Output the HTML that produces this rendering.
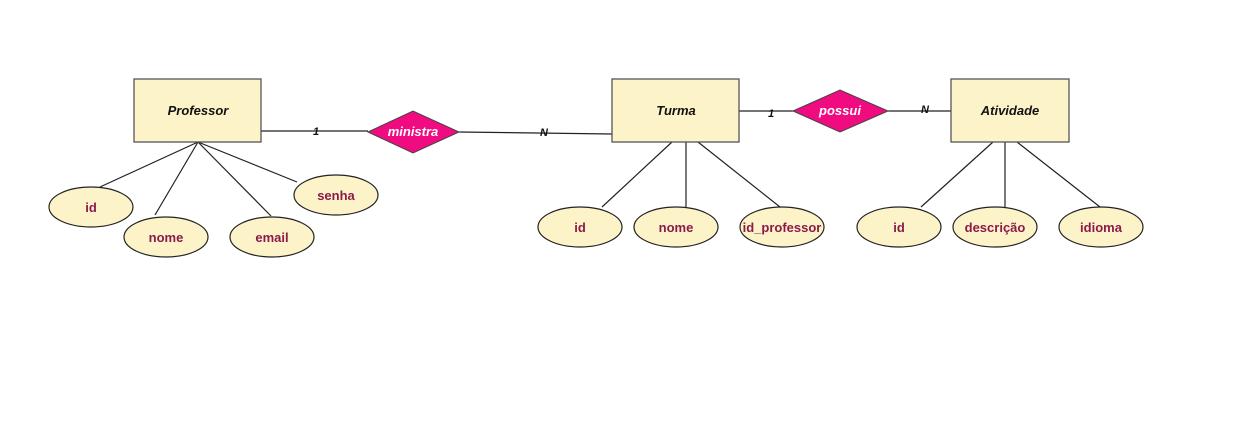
<!DOCTYPE html>
<html><head><style>
html,body{margin:0;padding:0;background:#fff;width:1240px;height:433px;overflow:hidden}
text{font-family:"Liberation Sans",Arial,sans-serif;font-weight:bold;font-size:13px}
.a{fill:#8b1a4a;text-anchor:middle}
.e{fill:#111;font-style:italic;text-anchor:middle}
.r{fill:#fff;font-style:italic;text-anchor:middle}
.c{fill:#111;font-style:italic;font-size:11px;text-anchor:middle}
</style></head><body>
<svg width="1240" height="433" xmlns="http://www.w3.org/2000/svg">
<g stroke="#222" stroke-width="1.2" fill="none">
<line x1="261" y1="131" x2="368" y2="131"/>
<line x1="459" y1="132" x2="612" y2="134"/>
<line x1="739" y1="111" x2="793" y2="111"/>
<line x1="888" y1="111" x2="951" y2="111"/>
<line x1="198" y1="142" x2="100" y2="187"/>
<line x1="198" y1="142" x2="155" y2="215"/>
<line x1="198" y1="142" x2="271" y2="216"/>
<line x1="198" y1="142" x2="297" y2="182"/>
<line x1="672" y1="142" x2="602" y2="207"/>
<line x1="686" y1="142" x2="686" y2="207"/>
<line x1="698" y1="142" x2="780" y2="207"/>
<line x1="993" y1="142" x2="921" y2="207"/>
<line x1="1005" y1="142" x2="1005" y2="207"/>
<line x1="1017" y1="142" x2="1100" y2="207"/>
</g>
<g fill="#fdf3c9" stroke="#555" stroke-width="1.3">
<rect x="134" y="79" width="127" height="63"/>
<rect x="612" y="79" width="127" height="63"/>
<rect x="951" y="79" width="118" height="63"/>
</g>
<g fill="#f00c80" stroke="#444" stroke-width="1">
<polygon points="368,132 413,111 459,132 413,153"/>
<polygon points="793,111 840,90 888,111 840,132"/>
</g>
<g fill="#fdf3c9" stroke="#222" stroke-width="1.2">
<ellipse cx="91" cy="207" rx="42" ry="20"/>
<ellipse cx="166" cy="237" rx="42" ry="20"/>
<ellipse cx="272" cy="237" rx="42" ry="20"/>
<ellipse cx="336" cy="195" rx="42" ry="20"/>
<ellipse cx="580" cy="227" rx="42" ry="20"/>
<ellipse cx="676" cy="227" rx="42" ry="20"/>
<ellipse cx="782" cy="227" rx="42" ry="20"/>
<ellipse cx="899" cy="227" rx="42" ry="20"/>
<ellipse cx="995" cy="227" rx="42" ry="20"/>
<ellipse cx="1101" cy="227" rx="42" ry="20"/>
</g>
<text class="e" x="198" y="115">Professor</text>
<text class="e" x="676" y="115">Turma</text>
<text class="e" x="1010" y="115">Atividade</text>
<text class="r" x="413" y="136">ministra</text>
<text class="r" x="840" y="115">possui</text>
<text class="c" x="316" y="135">1</text>
<text class="c" x="544" y="136">N</text>
<text class="c" x="771" y="117">1</text>
<text class="c" x="925" y="113">N</text>
<text class="a" x="91" y="212">id</text>
<text class="a" x="166" y="242">nome</text>
<text class="a" x="272" y="242">email</text>
<text class="a" x="336" y="200">senha</text>
<text class="a" x="580" y="232">id</text>
<text class="a" x="676" y="232">nome</text>
<text class="a" x="782" y="232">id_professor</text>
<text class="a" x="899" y="232">id</text>
<text class="a" x="995" y="232">descrição</text>
<text class="a" x="1101" y="232">idioma</text>
</svg>
</body></html>
